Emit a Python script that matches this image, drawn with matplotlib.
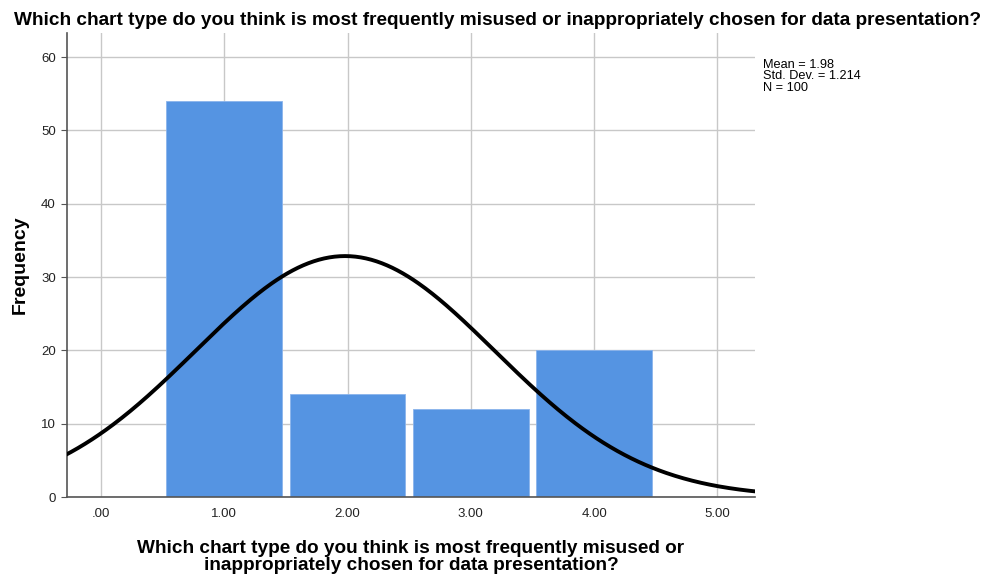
import numpy as np
import matplotlib
matplotlib.use('Agg')
import matplotlib.pyplot as plt

plt.rcParams['font.family'] = ['Liberation Sans', 'DejaVu Sans']

# data
categories = [1.0, 2.0, 3.0, 4.0]
counts = [54, 14, 12, 20]
mean = 1.98
std_dev = 1.214
n_total = 100
xtick_vals = [0, 1, 2, 3, 4, 5]
xtick_labels = ['.00', '1.00', '2.00', '3.00', '4.00', '5.00']
ytick_vals = [0, 10, 20, 30, 40, 50, 60]

question = 'Which chart type do you think is most frequently misused or inappropriately chosen for data presentation?'

fig = plt.figure(figsize=(9.87, 5.77), dpi=100)
ax = fig.add_axes([0.0679, 0.1386, 0.6971, 0.8044])

ax.bar(categories, counts, width=0.94, color='#5594e2', edgecolor='#8ab4ec',
       linewidth=0.6, zorder=2)

# normal curve scaled to the histogram (bin width 1)
xs = np.linspace(-0.3, 5.35, 400)
ys = n_total * np.exp(-0.5 * ((xs - mean) / std_dev) ** 2) / (std_dev * np.sqrt(2 * np.pi))
ax.plot(xs, ys, color='black', linewidth=2.8, zorder=3)

ax.set_xlim(-0.276, 5.306)
ax.set_ylim(0, 63.3)
ax.set_xticks(xtick_vals)
ax.set_xticklabels(xtick_labels)
ax.set_yticks(ytick_vals)
ax.tick_params(axis='x', length=0, labelsize=9.5, pad=8, colors='#222222')
ax.tick_params(axis='y', length=4, width=0.8, labelsize=9.5, pad=4, colors='#555555',
               labelcolor='#222222')
ax.grid(True, color='#c8c8c8', linewidth=1.0, zorder=0)
ax.set_axisbelow(True)

for s in ['top', 'right']:
    ax.spines[s].set_visible(False)
for s in ['left', 'bottom']:
    ax.spines[s].set_color('#555555')
    ax.spines[s].set_linewidth(1.2)

ax.set_ylabel('Frequency', fontsize=14, fontweight='bold', labelpad=9)
ax.set_xlabel('Which chart type do you think is most frequently misused or\ninappropriately chosen for data presentation?',
              fontsize=13.7, fontweight='bold', labelpad=14, linespacing=1.05)

fig.text(0.5045, 0.98, question, ha='center', va='top', fontsize=13.7, fontweight='bold')

stats = 'Mean = %.2f\nStd. Dev. = %.3f\nN = %d' % (mean, std_dev, n_total)
fig.text(0.773, 0.898, stats, ha='left', va='top', fontsize=9.2, linespacing=0.95)

fig.savefig('out.png', dpi=100, facecolor='white')
